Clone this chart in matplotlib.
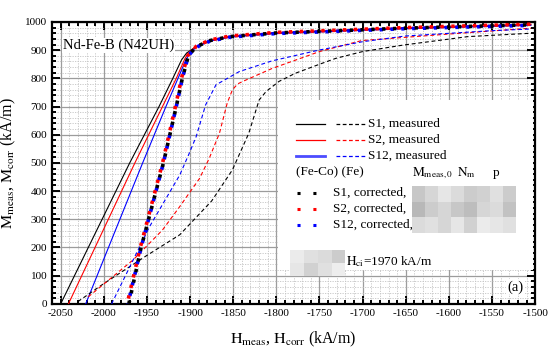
import matplotlib
matplotlib.use("Agg")
import matplotlib.pyplot as plt
from matplotlib.patches import Rectangle
from matplotlib.ticker import MultipleLocator
import numpy as np

plt.rcParams['font.family'] = ['Liberation Serif', 'DejaVu Serif']
plt.rcParams['mathtext.fontset'] = 'stix'

# ---------------- data ----------------
# top (common) branch after the knee
H_top = [-1893, -1877, -1854, -1800, -1728, -1651, -1580, -1505]
M_top = [912, 934, 948, 961, 969, 978, 984, 990]

# solid lines
H_s1 = [-2050, -1970, -1953, -1936, -1920, -1910, -1904]
M_s1 = [0, 500, 600, 700, 800, 865, 890]
H_s2 = [-2041, -1964, -1940, -1916, -1906, -1901]
M_s2 = [0, 500, 650, 800, 870, 893]
H_s12 = [-2021, -1955, -1928, -1914, -1905, -1900]
M_s12 = [0, 500, 700, 800, 865, 890]

# dashed lines (measured)
H_d1 = [-2030, -2000, -1951, -1912, -1875, -1851, -1832, -1820, -1812, -1797,
        -1778, -1750, -1731, -1700, -1653, -1578, -1505]
M_d1 = [8, 72, 170, 245, 365, 475, 605, 723, 753, 789,
        818, 850, 871, 895, 918, 948, 960]
H_d2 = [-2018, -1966, -1932, -1912, -1901, -1889, -1878, -1866, -1857, -1851,
        -1845, -1839, -1805, -1750, -1701, -1605, -1505]
M_d2 = [25, 156, 262, 345, 393, 445, 515, 605, 712, 759,
        780, 789, 835, 895, 934, 956, 978]
H_d12 = [-1991, -1947, -1912, -1901, -1893, -1882, -1870, -1859, -1843, -1805,
         -1751, -1700, -1651, -1551, -1505]
M_d12 = [0, 274, 457, 534, 593, 706, 777, 796, 824, 862,
         900, 930, 950, 969, 975]

# dotted lines (corrected)
H_c1 = [-1971, -1957, -1931, -1916, -1909, -1902, -1895]
M_c1 = [0, 197, 499, 700, 800, 880, 905]
H_c2 = [-1973, -1958, -1932, -1917, -1910, -1903, -1895]
M_c2 = [0, 197, 499, 700, 800, 880, 905]
H_c12 = [-1972, -1957, -1931, -1916, -1909, -1902, -1895]
M_c12 = [0, 197, 499, 700, 800, 880, 905]

legend_measured = ["S1, measured", "S2, measured", "S12, measured"]
legend_corrected = ["S1, corrected,", "S2, corrected,", "S12, corrected,"]
colors = ["black", "red", "blue"]

x_ticks = list(range(-2050, -1499, 50))
y_ticks = list(range(0, 1001, 100))

# ---------------- figure ----------------
fig = plt.figure(figsize=(5.54, 3.6), dpi=100)
ax = fig.add_axes([0.094, 0.156, 0.872, 0.783])

ax.set_xlim(-2060, -1500)
ax.set_ylim(0, 1000)
ax.set_xticks(x_ticks)
ax.set_yticks(y_ticks)
ax.xaxis.set_minor_locator(MultipleLocator(10))
ax.yaxis.set_minor_locator(MultipleLocator(20))
ax.set_xticklabels([f"-{abs(v)}" for v in x_ticks])
ax.grid(True, which='major', color='#9c9c9c', lw=0.9, ls='-', zorder=0)
ax.grid(True, which='minor', color='#c4c4c4', lw=0.6, ls=(0, (1.5, 1.5)), zorder=0)
ax.set_axisbelow(True)
ax.tick_params(which='both', direction='in', top=True, right=True, width=1.4,
               labelsize=8)
ax.tick_params(which='major', length=6)
ax.tick_params(which='minor', length=3)
for s in ax.spines.values():
    s.set_linewidth(1.6)

solids = [(H_s1, M_s1), (H_s2, M_s2), (H_s12, M_s12)]
dashes = [(H_d1, M_d1), (H_d2, M_d2), (H_d12, M_d12)]
dots = [(H_c1, M_c1), (H_c2, M_c2), (H_c12, M_c12)]
top_off = [0, 2, -2]

for (h, m), c, o in zip(solids, colors, top_off):
    ax.plot(h + H_top, m + [v + o for v in M_top], color=c, lw=0.8, zorder=3)
for (h, m), c in zip(dashes, colors):
    ax.plot(h, m, color=c, lw=0.8, ls=(0, (3.5, 2.5)), zorder=3)
dot_styles = [(0, (0.9, 2.1)), (1.5, (0.9, 2.1)), (0.75, (0.9, 2.1))]
dot_z = [5, 5, 4]
for (h, m), c, o, st, z in zip(dots, colors, top_off, dot_styles, dot_z):
    ax.plot(h + H_top, m + [v + o for v in M_top], color=c, lw=2.6,
            ls=st, zorder=z)

# labels
ax.set_xlabel(r"$\mathrm{H_{meas}}$, $\mathrm{H_{corr}}$ (kA/m)", fontsize=11.5, labelpad=9)
ax.set_ylabel(r"$\mathrm{M_{meas}}$, $\mathrm{M_{corr}}$ (kA/m)", fontsize=11.5, labelpad=5)

ax.text(0.023, 0.918, "Nd-Fe-B (N42UH)", transform=ax.transAxes, fontsize=10.5,
        va='center', ha='left', zorder=6,
        bbox=dict(facecolor='white', edgecolor='none', pad=0.5))

# legend box
T = ax.transAxes
ax.add_patch(Rectangle((0.468, 0.121), 0.528, 0.602, transform=T,
                       facecolor='white', edgecolor='none', zorder=6))
rows_m = [0.638, 0.583, 0.525]
for y, c, lab in zip(rows_m, colors, legend_measured):
    ax.plot([0.505, 0.565], [y, y], transform=T, color=c,
            lw=(2.0 if c == 'blue' else 0.9), zorder=7, alpha=(0.7 if c == 'blue' else 1))
    ax.plot([0.588, 0.652], [y, y], transform=T, color=c, lw=0.9,
            ls=(0, (3, 2)), zorder=7)
    ax.text(0.654, y, lab, transform=T, fontsize=9.5, va='center', ha='left', zorder=7)

ax.text(0.505, 0.465, "(Fe-Co) (Fe)", transform=T, fontsize=9.5, va='center', ha='left', zorder=7)
ax.text(0.745, 0.465, r"$\mathrm{M_{meas,0}}$", transform=T, fontsize=9.5, va='center', ha='left', zorder=7)
ax.text(0.838, 0.465, r"$\mathrm{N_m}$", transform=T, fontsize=9.5, va='center', ha='left', zorder=7)
ax.text(0.913, 0.465, "p", transform=T, fontsize=9.5, va='center', ha='left', zorder=7)

rows_c = [0.394, 0.337, 0.280]
for y, c, lab in zip(rows_c, colors, legend_corrected):
    ax.plot([0.508, 0.559], [y, y], transform=T, color=c, lw=2.2,
            ls=(0, (1, 4.2)), zorder=7)
    ax.text(0.582, y, lab, transform=T, fontsize=9.5, va='center', ha='left', zorder=7)

# pixelated (redacted) areas
mosaic = np.array([
    [0.78, 0.84, 0.90, 0.86, 0.80, 0.82, 0.88, 0.80],
    [0.72, 0.80, 0.84, 0.78, 0.74, 0.84, 0.86, 0.76],
    [0.86, 0.88, 0.84, 0.90, 0.82, 0.92, 0.90, 0.88],
])
x0, x1, y0, y1 = 0.745, 0.961, 0.252, 0.418
nr, nc = mosaic.shape
cw, ch = (x1 - x0) / nc, (y1 - y0) / nr
for i in range(nr):
    for j in range(nc):
        g = mosaic[i, j]
        ax.add_patch(Rectangle((x0 + j * cw, y1 - (i + 1) * ch), cw, ch, transform=T,
                               facecolor=(g, g, g), edgecolor='none', zorder=7))

mosaic2 = np.array([
    [0.92, 0.88, 0.86, 0.80],
    [0.90, 0.82, 0.88, 0.93],
])
x0, x1, y0, y1 = 0.493, 0.607, 0.099, 0.191
nr, nc = mosaic2.shape
cw, ch = (x1 - x0) / nc, (y1 - y0) / nr
for i in range(nr):
    for j in range(nc):
        g = mosaic2[i, j]
        ax.add_patch(Rectangle((x0 + j * cw, y1 - (i + 1) * ch), cw, ch, transform=T,
                               facecolor=(g, g, g), edgecolor='none', zorder=7))

ax.text(0.609, 0.149, r"$\mathrm{H_{ci}}$=1970 kA/m", transform=T, fontsize=9.5,
        va='center', ha='left', zorder=8)
ax.text(0.975, 0.06, "(a)", transform=T, fontsize=10.5, va='center', ha='right', zorder=8,
        bbox=dict(facecolor='white', edgecolor='none', pad=0.5))

fig.savefig("out.png", dpi=100)
